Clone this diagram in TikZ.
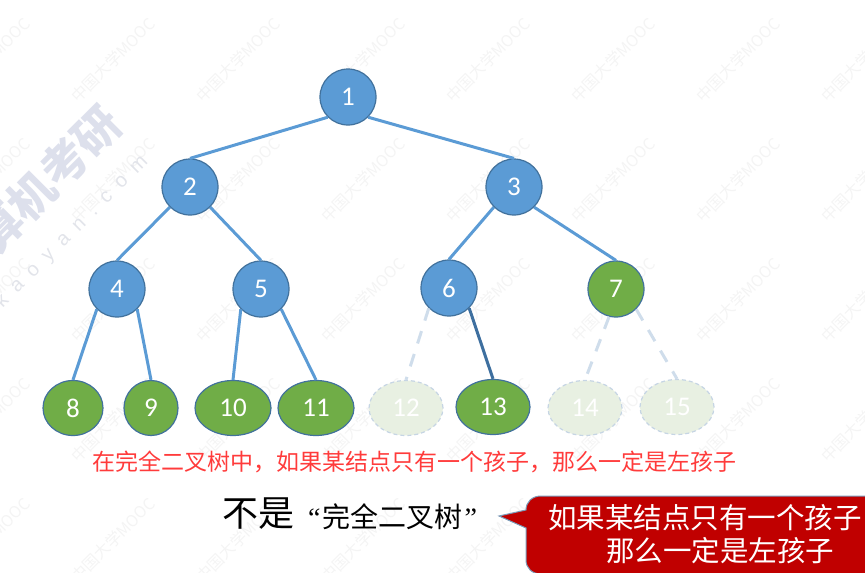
\documentclass[tikz,border=0pt]{standalone}
\usepackage{fontspec}
\setmainfont{Carlito}
\newfontfamily\cjk{Noto Sans CJK SC}
\newfontfamily\serifq{Liberation Serif}
\newfontfamily\wmlatin{Liberation Sans}
\usetikzlibrary{shapes.geometric}
\definecolor{bluefill}{HTML}{5B9BD5}
\definecolor{blueline}{HTML}{41719C}
\definecolor{greenfill}{HTML}{70AD47}
\definecolor{palefill}{HTML}{E8F0E2}
\definecolor{paleline}{HTML}{C6D5E4}
\definecolor{paleedge}{HTML}{CFDDEB}
\definecolor{darkedge}{HTML}{3E6F9F}
\definecolor{redtext}{HTML}{FF3B3B}
\definecolor{calloutred}{HTML}{C00000}
\definecolor{wmsmall}{HTML}{F4F4F4}
\definecolor{wmbig}{HTML}{DDE0EC}
\definecolor{wmsite}{HTML}{E2E4EA}
\tikzset{
  x=1pt,y=-1pt,
  numfont/.style={font=\fontsize{27}{30}\selectfont,text=white,inner sep=0pt},
  bluenode/.style={circle,numfont,minimum size=56pt,fill=bluefill,draw=blueline,line width=1.2pt},
  greennode/.style={ellipse,numfont,minimum height=55pt,fill=greenfill,draw=blueline,line width=1.2pt},
  palenode/.style={ellipse,numfont,minimum height=55pt,fill=palefill,draw=paleline,line width=1.2pt,dash pattern=on 4pt off 3pt},
  edgeline/.style={draw=bluefill,line width=3pt},
  darkline/.style={draw=darkedge,line width=3pt},
  paleline/.style={draw=paleedge,line width=3pt,dash pattern=on 13pt off 11pt},
  wmtext/.style={font=\cjk\fontsize{16}{18}\selectfont,text=wmsmall,rotate=45,inner sep=0pt}
}
\begin{document}
\begin{tikzpicture}
\useasboundingbox (0,0) rectangle (865,573);
\begin{scope}
\clip (0,0) rectangle (865,573);
\foreach \cx in {-12,113,238,363,488,613,738,863}
  \foreach \cy in {60,180,300,420,540}
    \node[wmtext] at (\cx,\cy) {中国大学MOOC};
\node[font=\cjk\bfseries\fontsize{46}{48}\selectfont,text=wmbig,rotate=45,anchor=east,inner sep=0pt] (wmbigtext) at (113,114) {计算机考研};
\node[font=\wmlatin\addfontfeatures{LetterSpace=55}\fontsize{20}{22}\selectfont,text=wmsite,rotate=45,inner sep=0pt] (wmsitetext) at (72,232) {kaoyan.com};

% tree nodes
\node[bluenode] (n1) at (348,97) {1};
\node[bluenode] (n2) at (190,187) {2};
\node[bluenode] (n3) at (514,187) {3};
\node[bluenode] (n4) at (117,289) {4};
\node[bluenode] (n5) at (261,289) {5};
\node[bluenode] (n6) at (449,288) {6};
\node[bluenode,fill=greenfill] (n7) at (616,289) {7};
\node[greennode,minimum width=60pt] (n8) at (73,408) {8};
\node[greennode,minimum width=54pt] (n9) at (151,408) {9};
\node[greennode,minimum width=76pt] (n10) at (233,408) {10};
\node[greennode,minimum width=76pt] (n11) at (316,408) {11};
\node[palenode,minimum width=74pt] (n12) at (406,408) {12};
\node[greennode,minimum width=74pt] (n13) at (493,407) {13};
\node[palenode,minimum width=74pt] (n14) at (585,408) {14};
\node[palenode,minimum width=74pt] (n15) at (677,407) {15};

% connectors
\draw[edgeline] (n1.south west) -- (n2.north);
\draw[edgeline] (n1.south east) -- (n3.north);
\draw[edgeline] (n2.south west) -- (n4.north);
\draw[edgeline] (n2.south east) -- (n5.north);
\draw[edgeline] (n3.south west) -- (n6.north);
\draw[edgeline] (n3.south east) -- (n7.north);
\draw[edgeline] (n4.south west) -- (n8.north);
\draw[edgeline] (n4.south east) -- (n9.north);
\draw[edgeline] (n5.south west) -- (n10.north);
\draw[edgeline] (n5.south east) -- (n11.north);
\draw[darkline] (n6.south east) -- (n13.north);
\draw[paleline] (n6.south west) -- (n12.north);
\draw[paleline] (n7.-104) -- (n14.north);
\draw[paleline] (n7.south east) -- (n15.north);

% texts
\node[font=\cjk\fontsize{23}{26}\selectfont,text=redtext,inner sep=0pt] (note) at (414,462) {在完全二叉树中，如果某结点只有一个孩子，那么一定是左孩子};
\node[inner sep=0pt,anchor=west] (notcomplete) at (222,514) {\cjk\fontsize{36}{40}\selectfont 不是};
\node[inner sep=0pt,anchor=west] (term) at (308,517) {\serifq\fontsize{28}{32}\selectfont “\hspace{2pt}\cjk 完全二叉树\serifq\hspace{2pt}”};

% callout
\draw[fill=calloutred,draw=blueline!70,line width=1pt] (885,496) -- (541,496)
  .. controls (532,496) and (526,502) .. (526,510)
  -- (499,516) -- (526,528) -- (526,560)
  .. controls (526,568) and (532,574) .. (541,574)
  -- (885,574) -- cycle;
\node[font=\cjk\fontsize{28.5}{33}\selectfont,text=white,inner sep=0pt,anchor=west,align=left] (calloutText) at (548,534)
  {如果某结点只有一个孩子\\\hspace*{58pt}那么一定是左孩子};
\end{scope}
\end{tikzpicture}
\end{document}
